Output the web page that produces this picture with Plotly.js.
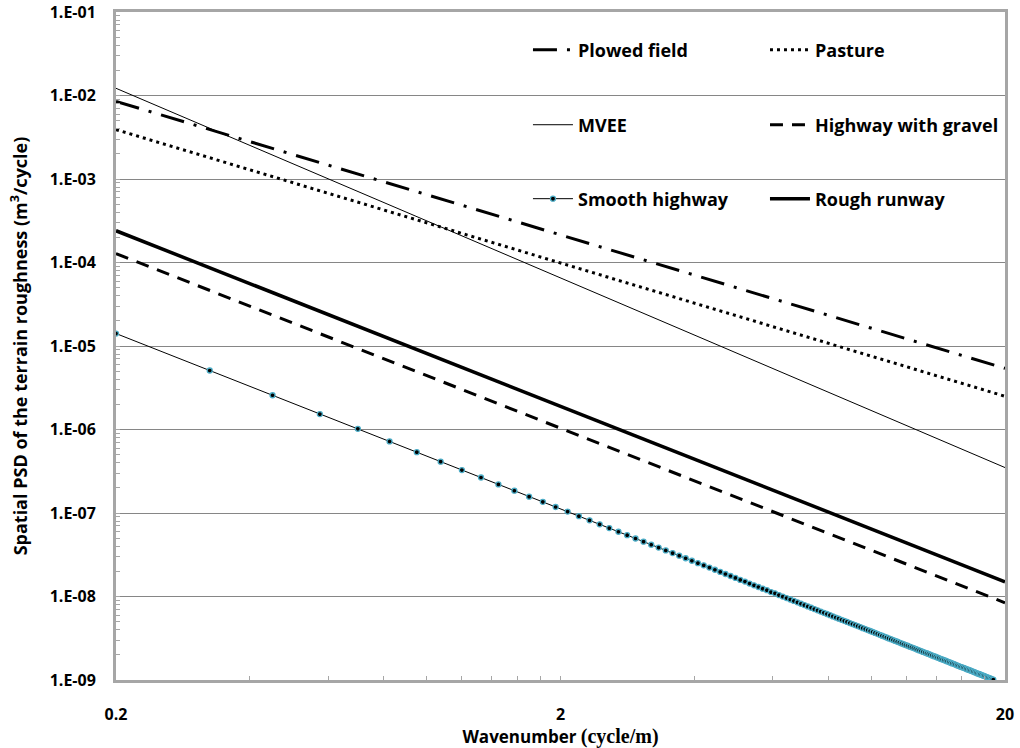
<!DOCTYPE html>
<html>
<head>
<meta charset="utf-8">
<script src="https://cdn.plot.ly/plotly-3.0.1.min.js"></script>
<style>html,body{margin:0;padding:0;background:#fff;}#chart{width:1020px;height:748px;}</style>
</head>
<body>
<div id="chart"></div>
<script>
// ---- Data ----
const seriesNames = ['Plowed field', 'Pasture', 'MVEE', 'Highway with gravel', 'Smooth highway', 'Rough runway'];
// straight (power-law) lines: values at the two ends of the wavenumber range
const lineWavenumbers = [0.2, 20];
const plowedField = [8.5e-3, 5.4e-6];
const pasture = [3.9e-3, 2.5e-6];
const mvee = [1.22e-2, 3.5e-7];
const highwayGravel = [1.28e-4, 8.4e-9];
const roughRunway = [2.4e-4, 1.5e-8];
// smooth highway: sampled points (markers)
const smoothWavenumbers = [0.2,0.325,0.45,0.575,0.7,0.825,0.95,1.075,1.2,1.325,1.45,1.575,1.7,1.825,1.95,2.075,2.2,2.325,2.45,2.575,2.7,2.825,2.95,3.075,3.2,3.325,3.45,3.575,3.7,3.825,3.95,4.075,4.2,4.325,4.45,4.575,4.7,4.825,4.95,5.075,5.2,5.325,5.45,5.575,5.7,5.825,5.95,6.075,6.2,6.325,6.45,6.575,6.7,6.825,6.95,7.075,7.2,7.325,7.45,7.575,7.7,7.825,7.95,8.075,8.2,8.325,8.45,8.575,8.7,8.825,8.95,9.075,9.2,9.325,9.45,9.575,9.7,9.825,9.95,10.075,10.2,10.325,10.45,10.575,10.7,10.825,10.95,11.075,11.2,11.325,11.45,11.575,11.7,11.825,11.95,12.075,12.2,12.325,12.45,12.575,12.7,12.825,12.95,13.075,13.2,13.325,13.45,13.575,13.7,13.825,13.95,14.075,14.2,14.325,14.45,14.575,14.7,14.825,14.95,15.075,15.2,15.325,15.45,15.575,15.7,15.825,15.95,16.075,16.2,16.325,16.45,16.575,16.7,16.825,16.95,17.075,17.2,17.325,17.45,17.575,17.7,17.825,17.95,18.075,18.2,18.325,18.45,18.575,18.7,18.825,18.95];
const smoothHighway = [1.41e-5,5.09e-6,2.57e-6,1.53e-6,1.02e-6,7.19e-7,5.35e-7,4.12e-7,3.27e-7,2.66e-7,2.20e-7,1.85e-7,1.57e-7,1.36e-7,1.18e-7,1.04e-7,9.17e-8,8.16e-8,7.31e-8,6.59e-8,5.96e-8,5.42e-8,4.95e-8,4.54e-8,4.17e-8,3.85e-8,3.56e-8,3.31e-8,3.08e-8,2.87e-8,2.68e-8,2.51e-8,2.36e-8,2.22e-8,2.09e-8,1.97e-8,1.86e-8,1.76e-8,1.67e-8,1.58e-8,1.51e-8,1.43e-8,1.36e-8,1.30e-8,1.24e-8,1.19e-8,1.13e-8,1.09e-8,1.04e-8,9.98e-9,9.58e-9,9.20e-9,8.84e-9,8.51e-9,8.19e-9,7.89e-9,7.60e-9,7.33e-9,7.07e-9,6.83e-9,6.60e-9,6.38e-9,6.17e-9,5.97e-9,5.78e-9,5.60e-9,5.43e-9,5.26e-9,5.11e-9,4.96e-9,4.81e-9,4.68e-9,4.55e-9,4.42e-9,4.30e-9,4.18e-9,4.07e-9,3.96e-9,3.86e-9,3.76e-9,3.66e-9,3.57e-9,3.48e-9,3.39e-9,3.31e-9,3.23e-9,3.15e-9,3.08e-9,3.01e-9,2.94e-9,2.87e-9,2.81e-9,2.74e-9,2.68e-9,2.62e-9,2.57e-9,2.51e-9,2.46e-9,2.41e-9,2.36e-9,2.31e-9,2.26e-9,2.22e-9,2.17e-9,2.13e-9,2.09e-9,2.05e-9,2.01e-9,1.97e-9,1.93e-9,1.90e-9,1.86e-9,1.83e-9,1.79e-9,1.76e-9,1.73e-9,1.70e-9,1.67e-9,1.64e-9,1.61e-9,1.58e-9,1.56e-9,1.53e-9,1.50e-9,1.48e-9,1.45e-9,1.43e-9,1.41e-9,1.39e-9,1.36e-9,1.34e-9,1.32e-9,1.30e-9,1.28e-9,1.26e-9,1.24e-9,1.22e-9,1.20e-9,1.18e-9,1.17e-9,1.15e-9,1.13e-9,1.12e-9,1.10e-9,1.08e-9,1.07e-9,1.05e-9,1.04e-9,1.02e-9,1.01e-9,0.996e-9];
// axis ticks
const xTickVals = [0.2, 2, 20];
const xTickText = ['0.2', '2', '20'];
const xMinorVals = [0.4, 0.6, 0.8, 1, 1.2, 1.4, 1.6, 1.8, 4, 6, 8, 10, 12, 14, 16, 18];
const yTickVals = [1e-9, 1e-8, 1e-7, 1e-6, 1e-5, 1e-4, 1e-3, 1e-2, 1e-1];
const yTickText = ['1.E-09', '1.E-08', '1.E-07', '1.E-06', '1.E-05', '1.E-04', '1.E-03', '1.E-02', '1.E-01'];

// minor tick positions on the y axis (2..9 in each decade)
const yMinor = [];
for (let e = -9; e < -1; e++) for (let m = 2; m <= 9; m++) yMinor.push(m * Math.pow(10, e));

const FONT = 'Open Sans, Liberation Sans, Arial, sans-serif';
const legendPos = [
  {x: 0.4634, y: 0.9431}, {x: 0.730, y: 0.9431},
  {x: 0.4634, y: 0.8308}, {x: 0.730, y: 0.8308},
  {x: 0.4634, y: 0.7201}, {x: 0.730, y: 0.7201}
];
const legendIds = ['legend', 'legend2', 'legend3', 'legend4', 'legend5', 'legend6'];

const traces = [
  {x: lineWavenumbers, y: plowedField, line: {color: '#000', width: 3, dash: '24px,10px,3px,10px'}},
  {x: lineWavenumbers, y: pasture, line: {color: '#000', width: 3, dash: '3px,4px'}},
  {x: lineWavenumbers, y: mvee, line: {color: '#000', width: 1}},
  {x: lineWavenumbers, y: highwayGravel, line: {color: '#000', width: 3, dash: '13px,9px'}},
  {x: smoothWavenumbers, y: smoothHighway, mode: 'lines+markers', line: {color: '#000', width: 1},
   marker: {symbol: 'circle', size: 5, color: '#000', line: {color: '#4bacc6', width: 1.3}}, cliponaxis: false},
  {x: lineWavenumbers, y: roughRunway, line: {color: '#000', width: 3.5}}
].map((t, i) => Object.assign({type: 'scatter', mode: 'lines', name: seriesNames[i], legend: legendIds[i]}, t));

const layout = {
  width: 1020, height: 748,
  margin: {l: 116, r: 15, t: 12, b: 68},
  paper_bgcolor: '#fff', plot_bgcolor: '#fff',
  font: {family: FONT, color: '#000'},
  xaxis: {
    type: 'log', range: [Math.log10(0.2), Math.log10(20)],
    tickmode: 'array', tickvals: xTickVals, ticktext: xTickText,
    tickfont: {family: FONT, size: 16, weight: 'bold', color: '#000'},
    ticks: 'inside', ticklen: 4, tickcolor: '#a6a6a6', tickwidth: 1,
    ticklabelstandoff: 18, ticklabeloverflow: 'allow',
    showgrid: false, zeroline: false,
    showline: true, linecolor: '#a6a6a6', linewidth: 3, mirror: true,
    minor: {tickmode: 'array', tickvals: xMinorVals, ticks: 'inside', ticklen: 4, tickcolor: '#a6a6a6', tickwidth: 1, showgrid: false},
    title: {text: 'Wavenumber <span style="font-family:\'Liberation Serif\',serif;font-size:20px">(cycle/m)</span>', font: {family: FONT, size: 17, weight: 'bold', color: '#000'}, standoff: 3}
  },
  yaxis: {
    type: 'log', range: [-9, -1],
    tickmode: 'array', tickvals: yTickVals, ticktext: yTickText,
    tickfont: {family: FONT, size: 16, weight: 'bold', color: '#000'},
    ticks: 'inside', ticklen: 4, tickcolor: '#a6a6a6', tickwidth: 1,
    ticklabelstandoff: 14, ticklabeloverflow: 'allow',
    showgrid: true, gridcolor: '#868686', gridwidth: 1, zeroline: false,
    showline: true, linecolor: '#a6a6a6', linewidth: 3, mirror: true,
    minor: {tickmode: 'array', tickvals: yMinor, ticks: 'inside', ticklen: 4, tickcolor: '#a6a6a6', tickwidth: 1, showgrid: false},
    title: {text: 'Spatial PSD of the terrain roughness (m<sup>3</sup>/cycle)', font: {family: FONT, size: 18, weight: 'bold', color: '#000'}, standoff: 18}
  },
  showlegend: true
};
legendIds.forEach((id, i) => {
  layout[id] = {x: legendPos[i].x, y: legendPos[i].y, xanchor: 'left', yanchor: 'middle',
    bgcolor: 'rgba(0,0,0,0)', borderwidth: 0, itemwidth: 40,
    font: {family: FONT, size: 18, weight: 'bold', color: '#000'}};
});

Plotly.newPlot('chart', traces, layout, {staticPlot: true, displayModeBar: false});
</script>
</body>
</html>
